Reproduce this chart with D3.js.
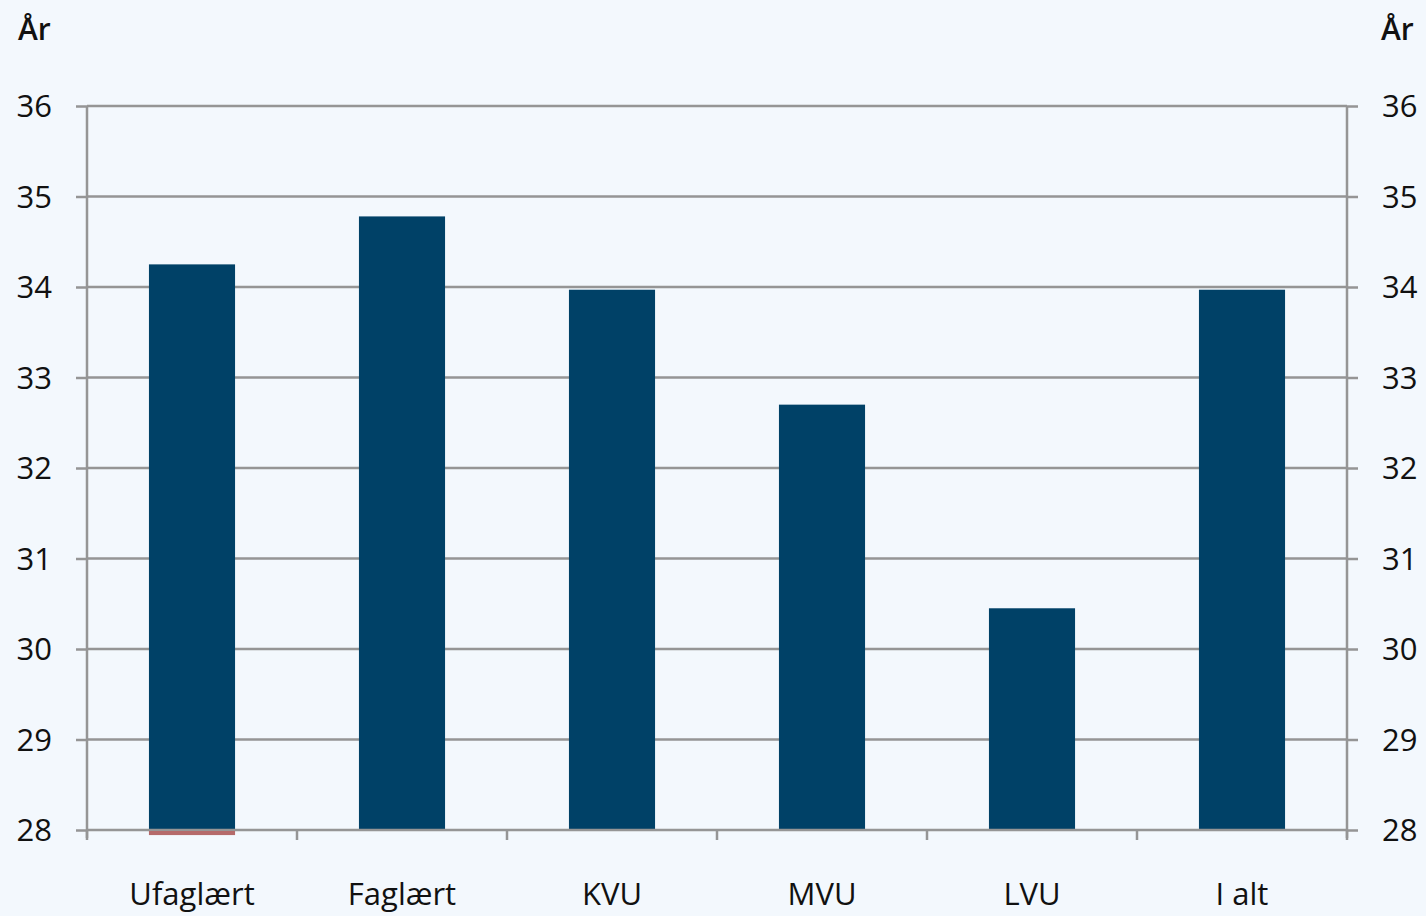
<!DOCTYPE html>
<html><head><meta charset="utf-8">
<script src="https://cdn.jsdelivr.net/npm/d3@7"></script>
<style>
html,body{margin:0;padding:0;background:#f3f8fd;}
svg{display:block;}
text{font-family:"Open Sans",sans-serif;fill:#111;}
</style></head><body>
<svg id="chart" width="1426" height="916"></svg>
<script>
const categories = ["Ufaglært","Faglært","KVU","MVU","LVU","I alt"];
const values = [34.25, 34.78, 33.97, 32.70, 30.45, 33.97];
const redValues = [27.955, null, null, null, null, null];
const yTicks = [28,29,30,31,32,33,34,35,36];
const axisTitle = "År";

const svg = d3.select("#chart");
const m = {left:87, right:1347, top:106, bottom:830};
const x = d3.scaleBand().domain(categories).range([m.left, m.right]).paddingInner(0.59).paddingOuter(0.295);
const y = d3.scaleLinear().domain([28,36]).range([m.bottom, m.top]);
const grid = "#959595";

// gridlines
svg.append("g").selectAll("line").data(yTicks.filter(d=>d>28)).join("line")
  .attr("x1", m.left).attr("x2", m.right)
  .attr("y1", d=>y(d)).attr("y2", d=>y(d))
  .attr("stroke", grid).attr("stroke-width", 2.5);

// bars
svg.append("g").selectAll("rect").data(categories).join("rect")
  .attr("x", d=>x(d)).attr("width", x.bandwidth())
  .attr("y", (d,i)=>y(values[i])).attr("height", (d,i)=>y(28)-y(values[i]))
  .attr("fill", "#004167");

// left axis
const yl = svg.append("g").attr("transform", `translate(${m.left},0)`)
  .call(d3.axisLeft(y).tickValues(yTicks).tickSize(11).tickPadding(24).tickFormat(d3.format("d")));
yl.select(".domain").attr("stroke", grid).attr("stroke-width", 2.5).attr("d", `M0,${m.top}V${m.bottom+8}`);
yl.selectAll(".tick line").attr("stroke", grid).attr("stroke-width", 2.5);
yl.selectAll(".tick text").style("font-size","31px").attr("fill","#111").attr("dy","0.35em");

// right axis
const yr = svg.append("g").attr("transform", `translate(${m.right},0)`)
  .call(d3.axisRight(y).tickValues(yTicks).tickSize(11).tickPadding(24).tickFormat(d3.format("d")));
yr.select(".domain").attr("stroke", grid).attr("stroke-width", 2.5).attr("d", `M0,${m.top}V${m.bottom+8}`);
yr.selectAll(".tick line").attr("stroke", grid).attr("stroke-width", 2.5);
yr.selectAll(".tick text").style("font-size","31px").attr("fill","#111").attr("dy","0.35em");

// x axis
const xa = svg.append("g").attr("transform", `translate(0,${m.bottom})`)
  .call(d3.axisBottom(x).tickSize(0).tickPadding(53));
xa.select(".domain").attr("stroke", grid).attr("stroke-width", 2.5).attr("d", `M${m.left},0H${m.right}`);
xa.selectAll(".tick text").style("font-size","31px").attr("fill","#111");
// boundary ticks
const bounds = d3.range(categories.length+1).map(i => m.left + i*(m.right-m.left)/categories.length);
svg.append("g").selectAll("line").data(bounds).join("line")
  .attr("x1", d=>d).attr("x2", d=>d).attr("y1", m.bottom).attr("y2", m.bottom+10)
  .attr("stroke", grid).attr("stroke-width", 2.5);

// red small series just below baseline (drawn over axis line)
svg.append("g").selectAll("rect").data(categories.filter((d,i)=>redValues[i]!=null)).join("rect")
  .attr("x", d=>x(d)).attr("width", x.bandwidth())
  .attr("y", y(28) + 1).attr("height", d=>y(redValues[categories.indexOf(d)]) - y(28))
  .attr("fill", "#b56a6a");

// titles
svg.append("text").attr("x", 18).attr("y", 40).text(axisTitle)
  .style("font-size","30px").style("font-weight","600");
svg.append("text").attr("x", 1381).attr("y", 40).text(axisTitle)
  .style("font-size","30px").style("font-weight","600");
</script>
</body></html>
